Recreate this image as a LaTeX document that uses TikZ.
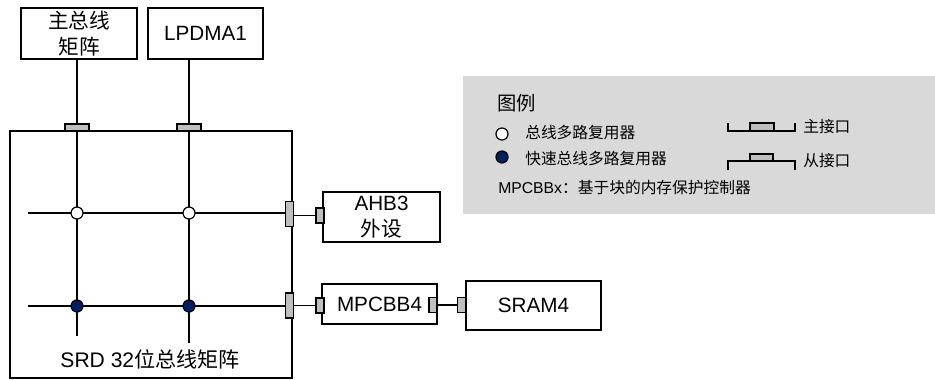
\documentclass[tikz,border=0pt]{standalone}
\usepackage{fontspec}
\setmainfont{Liberation Sans}
\newfontfamily\cjk{Noto Sans CJK SC}
\usetikzlibrary{positioning}
\definecolor{portgray}{RGB}{191,191,191}
\definecolor{legendbg}{RGB}{217,217,217}
\definecolor{muxnavy}{RGB}{0,32,96}
\tikzset{
  % Function block: plain rectangle, label centred
  blk/.style={draw, rectangle, line width=1.4pt, align=center, inner sep=0pt,
              font=\fontsize{15.5pt}{19.5pt}\selectfont},
  % Bus-matrix enclosure
  matrixbox/.style={draw, rectangle, line width=1.4pt, inner sep=0pt},
  % Interface ports: grey small rectangles
  port/.style={draw, rectangle, fill=portgray, line width=0.9pt, inner sep=0pt},
  mport/.style={port, minimum width=18pt, minimum height=5.25pt},
  sport/.style={port, minimum width=6pt, minimum height=18.75pt},
  sport-small/.style={port, minimum width=6pt, minimum height=11.25pt},
  % Multiplexers
  mux/.style={draw, circle, fill=white, minimum size=9pt, inner sep=0pt, line width=0.9pt},
  fastmux/.style={mux, fill=muxnavy},
  % Bus lines
  bus/.style={line width=1.1pt},
  % Legend
  legendtxt/.style={anchor=west, inner sep=0pt, font=\fontsize{11.8pt}{14pt}\selectfont},
  legendtitle/.style={anchor=west, inner sep=0pt, font=\fontsize{14.5pt}{16pt}\selectfont}
}
\begin{document}
\begin{tikzpicture}[x=0.75pt, y=-0.75pt]
\useasboundingbox (0,0) rectangle (935,379);

% ============== LEGEND PANEL ==============
\fill[legendbg] (463,76) rectangle (935,214);
\node[legendtitle] (legtitle) at (497,103) {\cjk 图例};
\node[mux] (legmux) at (502,134) {};
\node[legendtxt] (legmuxtxt) at (525,133) {\cjk 总线多路复用器};
\node[fastmux] (legfast) at (502,157) {};
\node[legendtxt] (legfasttxt) at (525,159) {\cjk 快速总线多路复用器};
\node[legendtxt] (legmpcbb) at (498,188) {MPCBBx{\cjk ：基于块的内存保护控制器}};
\draw[line width=0.9pt] (728,123) -- (728,131) -- (795,131) -- (795,123);
\node[port, minimum width=18pt, minimum height=6pt] (legmport) at (762,127) {};
\node[legendtxt] (legmtxt) at (803,127) {\cjk 主接口};
\draw[line width=0.9pt] (728,170) -- (728,161) -- (795,161) -- (795,170);
\node[port, minimum width=17.25pt, minimum height=5.25pt] (legsport) at (761.5,157.5) {};
\node[legendtxt] (legstxt) at (803,161) {\cjk 从接口};

% ============== TOP ROW: masters ==============
\node[blk, minimum width=87pt, minimum height=38.25pt] (mbm) at (79,33.5)
  {\cjk 主总线\\\cjk 矩阵};
\node[blk, minimum width=86.25pt, minimum height=38.25pt] (lpdma) at (205.5,33.5) {LPDMA1};

% ============== SRD BUS MATRIX ==============
\node[matrixbox, minimum width=211.5pt, minimum height=185.25pt] (srd) at (151,254.5) {};
\node[inner sep=0pt, font=\fontsize{15.8pt}{18pt}\selectfont] (srdlabel) at (150,359)
  {SRD 32{\cjk 位总线矩阵}};

\coordinate (h1start) at (28,213);
\coordinate (h2start) at (28,306);
\coordinate (v1end) at (77,336);
\coordinate (v2end) at (189,343);

\node[mport] (pm1) at (77,127.5) {};
\node[mport] (pm2) at (189,127.5) {};
\node[sport] (ps1) at (289.5,214) {};
\node[sport] (ps2) at (289.5,305.5) {};

\draw[bus] (mbm.south -| pm1) -- (pm1.north);
\draw[bus] (lpdma.south -| pm2) -- (pm2.north);
\draw[bus] (pm1.south) -- (v1end);
\draw[bus] (pm2.south) -- (v2end);
\draw[bus] (h1start) -- (ps1.west |- h1start);
\draw[bus] (h2start) -- (ps2.west |- h2start);

\node[mux] (mux1) at (77,213) {};
\node[mux] (mux2) at (189,213) {};
\node[fastmux] (fmux1) at (77,306) {};
\node[fastmux] (fmux2) at (189,306) {};

% redraw ports on top of the lines
\node[mport] at (pm1) {};
\node[mport] at (pm2) {};
\node[sport] at (ps1) {};
\node[sport] at (ps2) {};

% ============== SLAVES ==============
\node[blk, minimum width=87.75pt, minimum height=37.5pt] (ahb) at (381.5,217)
  {AHB3\\\cjk 外设};
\node[sport-small] (pahb) at (320,215.5) {};
\node[blk, minimum width=86.25pt, minimum height=30pt] (mpcbb) at (379.5,304) {MPCBB4};
\node[sport-small] (pmpl) at (320,305.5) {};
\node[sport-small] (pmpr) at (433,305) {};
\node[blk, minimum width=101.25pt, minimum height=36.75pt] (sram) at (533.5,305.5) {SRAM4};
\node[sport-small] (psram) at (461.5,305) {};

\draw[bus] (ps1.east |- pahb) -- (pahb.west);
\draw[bus] (ps2.east |- pmpl) -- (pmpl.west);
\draw[bus] (pmpr.east) -- (psram.west);

\end{tikzpicture}
\end{document}
